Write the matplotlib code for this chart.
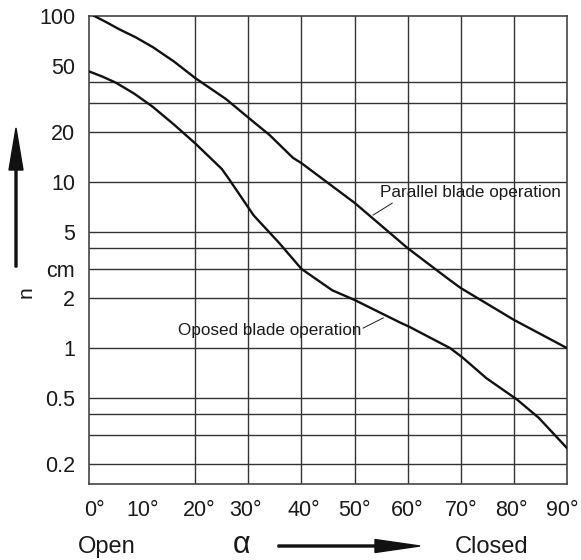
import numpy as np
import matplotlib
matplotlib.use('Agg')
import matplotlib.pyplot as plt
from matplotlib.patches import FancyArrow
from matplotlib.transforms import IdentityTransform, offset_copy

plt.rcParams['font.family'] = ['Liberation Sans', 'DejaVu Sans']

# Parallel blade operation (angle in degrees, value)
parallel_angle = [1, 3.2, 5.6, 8.8, 12, 16, 20, 25.8, 31, 34, 38.4, 40, 50, 60, 68, 70, 80, 90]
parallel_value = [100, 92, 83.5, 74.4, 65, 53.2, 42.3, 31.6, 23, 19.2, 14.0, 13, 7.5, 4.0, 2.56, 2.3, 1.48, 1.0]

# Opposed blade operation
opposed_angle = [0, 2.5, 5.1, 8.5, 12, 16, 20, 25, 26.2, 28.4, 31, 35.8, 40, 45.8, 50, 58.5, 60.4, 68, 70.3, 74.8, 80.6, 84.7, 90]
opposed_value = [46.4, 43.2, 39.6, 34.1, 28.4, 22.2, 17.1, 12.0, 10.6, 8.35, 6.3, 4.3, 3.0, 2.23, 1.95, 1.43, 1.34, 1.0, 0.88, 0.66, 0.49, 0.38, 0.25]

x_ticks = [0, 10, 20, 30, 40, 50, 60, 70, 80, 90]
x_labels = ['0°', '10°', '20°', '30°', '40°', '50°', '60°', '70°', '80°', '90°']
x_grid = [20, 30, 40, 50, 60, 70, 80]

y_ticks = [100, 50, 20, 10, 5, 3, 2, 1, 0.5, 0.2]
y_labels = ['100', '50', '20', '10', '5', 'cm', '2', '1', '0.5', '0.2']
y_grid = [40, 30, 20, 10, 5, 4, 3, 2, 1, 0.5, 0.4, 0.3, 0.2]

W, H = 581, 560
fig = plt.figure(figsize=(W / 100, H / 100), dpi=100)
ax = fig.add_axes([89 / W, 1 - 484 / H, 478 / W, 468 / H])

ax.set_yscale('log')
ax.set_xlim(0, 90)
ax.set_ylim(0.152, 100)

grid_col = '#333333'
for v in y_grid:
    ax.axhline(v, color=grid_col, lw=1.0, zorder=1)
for v in x_grid:
    ax.axvline(v, color=grid_col, lw=1.0, zorder=1)

ax.plot(parallel_angle, parallel_value, color='#111111', lw=1.7, zorder=3)
ax.plot(opposed_angle, opposed_value, color='#111111', lw=1.7, zorder=3)

# x labels drawn by hand so the end ones can be nudged like in the original
ax.set_xticks([])
x_nudge = [5, 1, 4, -3, 2, 0, 0, 0, -3, -5]  # pixels
xlab_trans = ax.get_xaxis_transform()
for v, lab, dx in zip(x_ticks, x_labels, x_nudge):
    t = offset_copy(xlab_trans, fig=fig, x=dx, y=-26, units='dots')
    ax.text(v, 0, lab, transform=t, ha='center', va='center', fontsize=15.5, color='#1a1a1a')

ax.set_yticks(y_ticks)
ax.set_yticklabels(y_labels)
ax.minorticks_off()
ax.tick_params(axis='y', length=0, labelsize=15.5, colors='#1a1a1a', pad=10)
for s in ax.spines.values():
    s.set_color('#444444')
    s.set_linewidth(1.2)

# curve labels with leader lines
ax.text(54.8, 8.7, 'Parallel blade operation', fontsize=12.3, va='center', ha='left', color='#1a1a1a', zorder=4)
ax.plot([57.1, 53.5], [7.47, 6.33], color='#1a1a1a', lw=0.7, zorder=4)
ax.text(16.8, 1.27, 'Oposed blade operation', fontsize=12.3, va='center', ha='left', color='#1a1a1a', zorder=4)
ax.plot([51.6, 55.4], [1.32, 1.52], color='#1a1a1a', lw=0.7, zorder=4)

# outer annotations (pixel positions)
fig.text(106.5 / W, 1 - 547 / H, 'Open', fontsize=17, ha='center', va='center', color='#1a1a1a')
fig.text(492 / W, 1 - 547 / H, 'Closed', fontsize=17, ha='center', va='center', color='#1a1a1a')
fig.text(242 / W, 1 - 545 / H, 'α', fontsize=22, ha='center', va='center', color='#1a1a1a')
fig.text(26 / W, 1 - 292 / H, 'n', fontsize=15, ha='center', va='center', rotation=90, color='#1a1a1a')

fig.add_artist(FancyArrow(278, H - 546, 142, 0, width=2, head_width=13, head_length=45,
                          length_includes_head=True, color='#111111', transform=IdentityTransform()))
fig.add_artist(FancyArrow(16, H - 267, 0, 139, width=2, head_width=14, head_length=42,
                          length_includes_head=True, color='#111111', transform=IdentityTransform()))

fig.savefig('out.png', dpi=100)
